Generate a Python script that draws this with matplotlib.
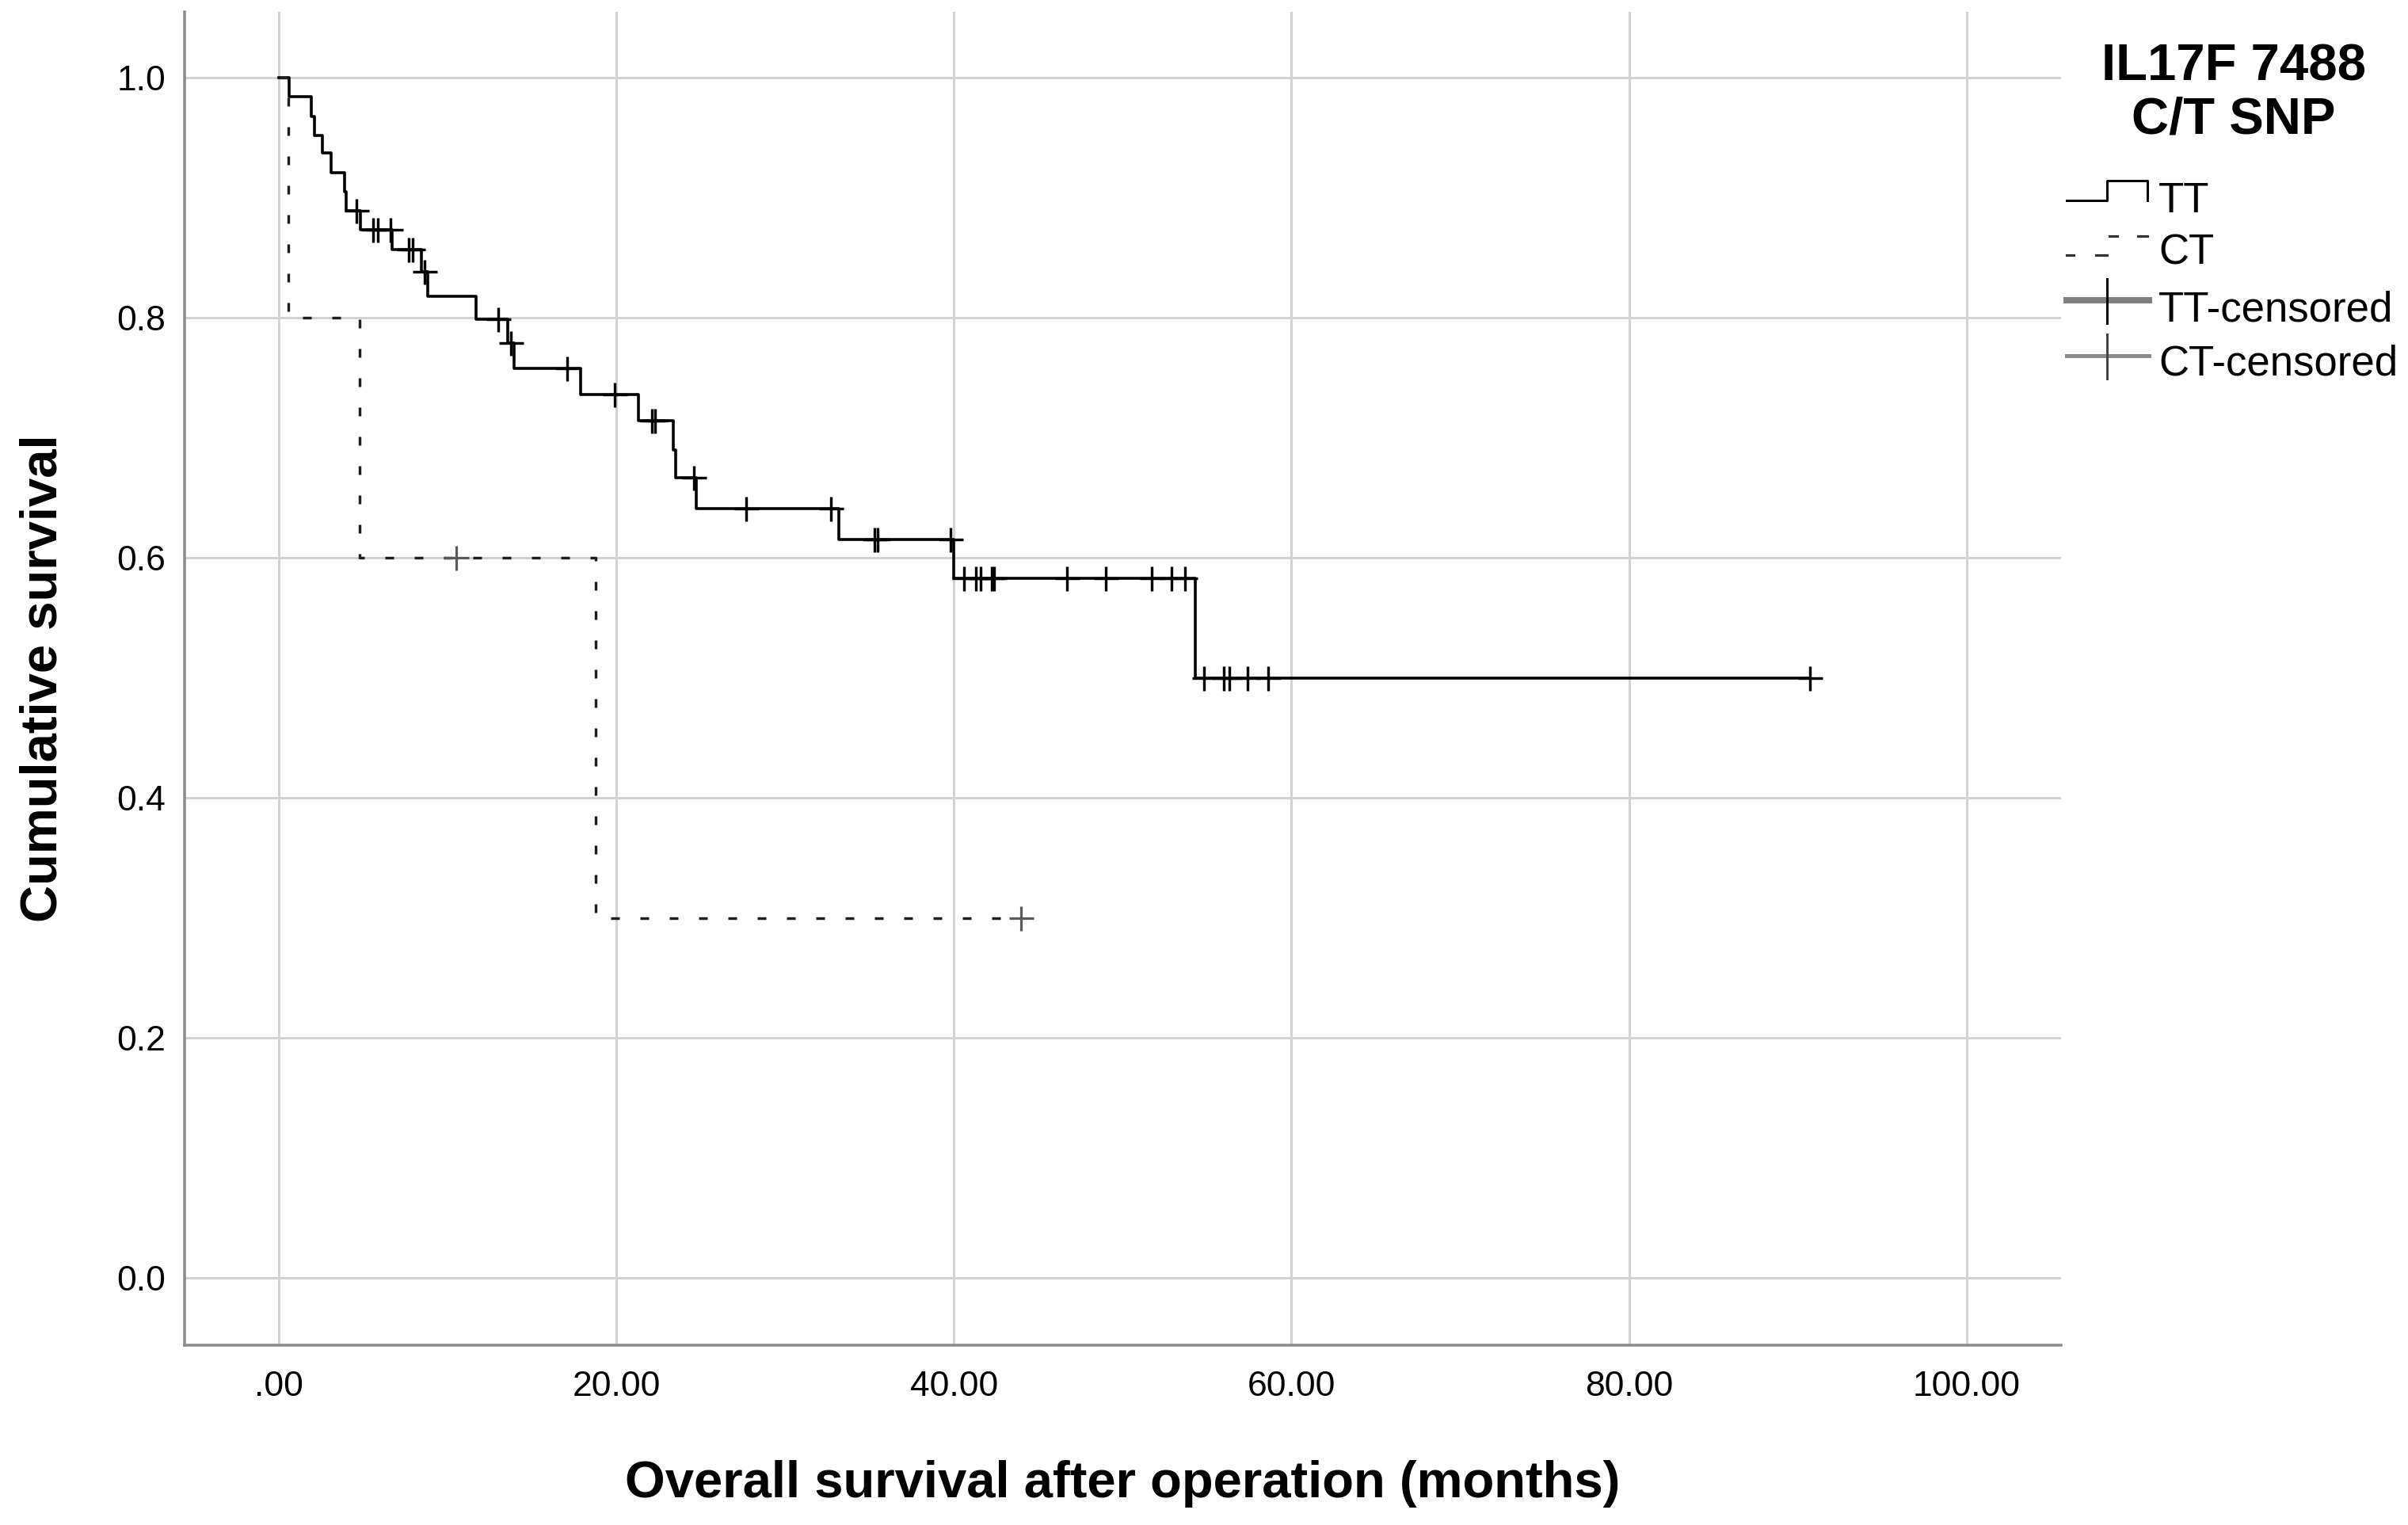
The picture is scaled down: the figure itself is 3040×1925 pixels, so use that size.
import matplotlib
matplotlib.use("Agg")
import matplotlib.pyplot as plt
from matplotlib.lines import Line2D

# Kaplan-Meier data
tt_event_times = [0.6, 1.95, 2.1, 2.6, 3.1, 3.9, 4.0, 4.85, 6.7, 8.45, 8.85, 11.7,
                  13.55, 13.95, 17.9, 21.3, 23.4, 23.5, 24.75, 33.2, 40.0, 54.3]
tt_survival = [0.984, 0.968, 0.952, 0.937, 0.921, 0.905, 0.889, 0.873, 0.857, 0.838,
               0.818, 0.799, 0.779, 0.758, 0.736, 0.714, 0.690, 0.667, 0.641, 0.615,
               0.583, 0.500]
tt_censor_times = [4.6, 5.6, 5.85, 6.6, 7.7, 7.95, 8.65, 13.0, 13.75, 17.1, 19.9,
                   22.1, 22.3, 24.6, 27.7, 32.7, 35.3, 35.5, 39.8, 40.6, 41.3, 41.6,
                   42.25, 42.4, 46.7, 49.0, 51.7, 52.9, 53.7, 54.8, 56.0, 56.3, 57.4,
                   58.6, 90.7]

ct_event_times = [0.55, 4.8, 18.8]
ct_survival = [0.8, 0.6, 0.3]
ct_censor_times = [10.5, 44.0]

x_ticks = [0, 20, 40, 60, 80, 100]
x_tick_labels = [".00", "20.00", "40.00", "60.00", "80.00", "100.00"]
y_ticks = [0.0, 0.2, 0.4, 0.6, 0.8, 1.0]
y_tick_labels = ["0.0", "0.2", "0.4", "0.6", "0.8", "1.0"]

legend_title = ["IL17F 7488", "C/T SNP"]
legend_labels = ["TT", "CT", "TT-censored", "CT-censored"]

plt.rcParams["font.family"] = ["Liberation Sans", "DejaVu Sans"]

W, H, DPI = 3040, 1925, 200
PT = 72.0 / DPI  # points per pixel


def surv_at(times, surv, t):
    s = 1.0
    for et, sv in zip(times, surv):
        if et <= t:
            s = sv
    return s


def step_xy(times, surv, end):
    xs = [0.0] + list(times) + [end]
    ys = [1.0] + list(surv) + [surv[-1]]
    return xs, ys


fig = plt.figure(figsize=(W / DPI, H / DPI), dpi=DPI)
ax = fig.add_axes([233 / W, 1 - 1698 / H, (2602 - 233) / W, (1698 - 15) / H])

ax.set_xlim(-5.58, 105.6)
ax.set_ylim(-0.0561, 1.0548)

for s in ["top", "right"]:
    ax.spines[s].set_visible(False)
for s in ["left", "bottom"]:
    ax.spines[s].set_color("#8a8a8a")
    ax.spines[s].set_linewidth(3.5 * PT)

ax.set_xticks(x_ticks)
ax.set_xticklabels(x_tick_labels)
ax.set_yticks(y_ticks)
ax.set_yticklabels(y_tick_labels)
ax.tick_params(axis="both", length=0, labelsize=16, colors="black")
ax.tick_params(axis="x", pad=32 * PT)
ax.tick_params(axis="y", pad=24 * PT)
ax.grid(True, color="#d2d2d2", linewidth=3 * PT, zorder=0)
ax.set_axisbelow(True)

# curves
lw_tt = 3.6 * PT
tx, ty = step_xy(tt_event_times, tt_survival, tt_censor_times[-1])
ax.step(tx, ty, where="post", color="black", linewidth=lw_tt, zorder=3)
lw_ct = 3.4 * PT
cx, cy = step_xy(ct_event_times, ct_survival, ct_censor_times[-1])
ax.step(cx, cy, where="post", color="#1e1e1e", linewidth=lw_ct,
        dashes=(11 / 3.4, 26 / 3.4), zorder=3)

# censored marks
tt_cy = [surv_at(tt_event_times, tt_survival, t) for t in tt_censor_times]
ax.plot(tt_censor_times, tt_cy, linestyle="none", marker="+", markersize=31 * PT,
        markeredgewidth=3.4 * PT, color="black", zorder=4)
ct_cy = [surv_at(ct_event_times, ct_survival, t) for t in ct_censor_times]
ax.plot(ct_censor_times, ct_cy, linestyle="none", marker="+", markersize=31 * PT,
        markeredgewidth=3.2 * PT, color="#5a5a5a", zorder=4)

# axis titles
fig.text(55 / W, 1 - 856 / H, "Cumulative survival", rotation=90, ha="center",
         va="center", fontsize=23.5, fontweight="bold")
fig.text(1417 / W, 1 - 1890 / H, "Overall survival after operation (months)",
         ha="center", va="baseline", fontsize=23.5, fontweight="bold")

# legend (drawn by hand in SPSS style)
fig.text(2820 / W, 1 - 102 / H, legend_title[0], ha="center", va="baseline",
         fontsize=23.5, fontweight="bold")
fig.text(2820 / W, 1 - 168 / H, legend_title[1], ha="center", va="baseline",
         fontsize=23.5, fontweight="bold")


def fx(px):
    return px / W


def fy(py):
    return 1 - py / H


baselines = [268, 333, 405, 473]
for lab, b in zip(legend_labels, baselines):
    fig.text(fx(2725), fy(b), lab, ha="left", va="baseline", fontsize=19)

x0, xm, x1 = 2609, 2660, 2711
# TT step key
fig.add_artist(Line2D([fx(x0), fx(xm), fx(xm), fx(x1), fx(x1)],
                      [fy(253), fy(253), fy(228), fy(228), fy(253)],
                      color="black", linewidth=3 * PT))
# CT dashed step key (two dashes low, two dashes high)
for xa, xb in [(2609, 2618), (2646, 2660)]:
    fig.add_artist(Line2D([fx(xa), fx(xb)], [fy(322), fy(322)],
                          color="#333333", linewidth=3.2 * PT))
for xa, xb in [(2663, 2673), (2699, 2711)]:
    fig.add_artist(Line2D([fx(xa), fx(xb)], [fy(298), fy(298)],
                          color="#333333", linewidth=3.2 * PT))
# TT-censored key
fig.add_artist(Line2D([fx(x0), fx(x1 + 2)], [fy(379), fy(379)],
                      color="#808080", linewidth=8 * PT))
fig.add_artist(Line2D([fx(xm), fx(xm)], [fy(352), fy(408)],
                      color="black", linewidth=3 * PT))
# CT-censored key
fig.add_artist(Line2D([fx(x0), fx(x1 + 2)], [fy(449), fy(449)],
                      color="#8c8c8c", linewidth=5 * PT))
fig.add_artist(Line2D([fx(xm), fx(xm)], [fy(422), fy(478)],
                      color="#444444", linewidth=3 * PT))

fig.savefig("out.png", dpi=DPI)
